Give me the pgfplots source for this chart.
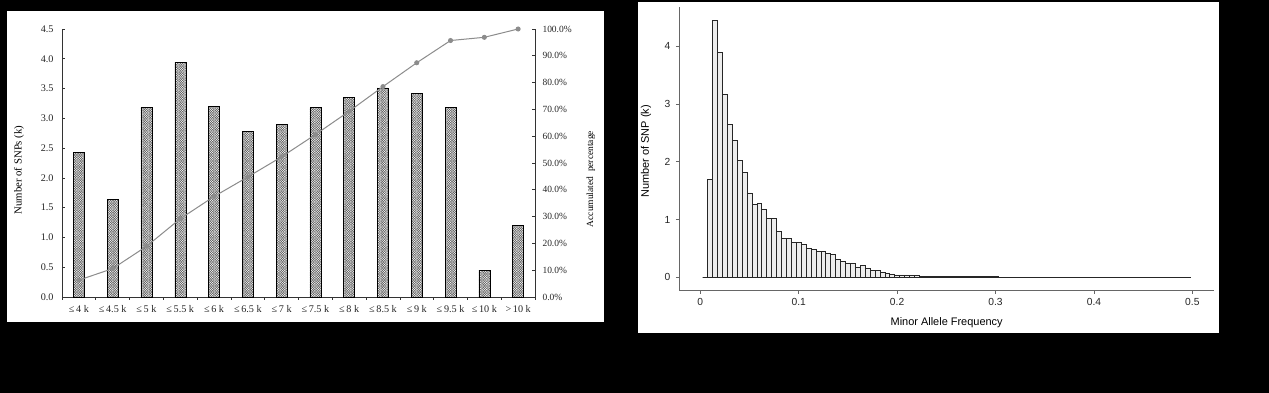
\documentclass[border=0pt]{standalone}
\usepackage{pgfplots}
\pgfplotsset{compat=1.18}
\usepackage{fontspec}
\setmainfont{Liberation Serif}
\newfontfamily\arial{Liberation Sans}
\usetikzlibrary{patterns.meta}
\begin{document}
\begin{tikzpicture}
\useasboundingbox (0,0) rectangle (1269bp,393bp);
\fill[black] (0,0) rectangle (1269bp,393bp);
\fill[white] (7bp,71bp) rectangle (604bp,382bp);
\fill[white] (638bp,60bp) rectangle (1219bp,391bp);

% ---------- left chart ----------
\begin{axis}[
  at={(62bp,96bp)}, anchor=south west,
  scale only axis, width=473bp, height=268bp,
  xmin=-0.5, xmax=13.5, ymin=0, ymax=4.5,
  axis x line*=bottom, axis y line*=left,
  axis line style={black!80, line width=0.6bp, -},
  ytick={0,0.5,...,4.5},
  yticklabels={0.0,0.5,1.0,1.5,2.0,2.5,3.0,3.5,4.0,4.5},
  xtick={0,...,13},
  xticklabels={≤\,4 k,≤\,4.5 k,≤\,5 k,≤\,5.5 k,≤\,6 k,≤\,6.5 k,≤\,7 k,≤\,7.5 k,≤\,8 k,≤\,8.5 k,≤\,9 k,≤\,9.5 k,≤\,10 k,>\,10 k},
  minor xtick={-0.5,0.5,...,13.5},
  major x tick style={draw=none},
  minor x tick style={black!80, line width=0.6bp},
  y tick style={black!80, line width=0.6bp},
  tick align=inside, major tick length=3bp, minor tick length=3bp,
  tick label style={font=\fontsize{10.2}{11}\selectfont, text=black!85},
  xticklabel style={yshift=-2bp},
  yticklabel style={xshift=-5bp},
  ylabel={Number of SNPs (k)},
  ylabel style={font=\fontsize{10.8}{12}\selectfont, at={(axis description cs:-0.091,0.474)}, anchor=center, rotate=0},
  ybar, bar width=11bp, bar shift=0pt,
  clip=false,
]
\addplot[draw=black, line width=0.5bp, pattern={Hatch[angle=45,distance=1.7bp,line width=0.5bp]}, pattern color=black!60]
coordinates {(0,2.43) (1,1.64) (2,3.18) (3,3.94) (4,3.20) (5,2.78) (6,2.90) (7,3.18) (8,3.35) (9,3.51) (10,3.42) (11,3.18) (12,0.45) (13,1.20)};
\end{axis}
\begin{axis}[
  at={(62bp,96bp)}, anchor=south west,
  scale only axis, width=473bp, height=268bp,
  xmin=-0.5, xmax=13.5, ymin=0, ymax=100,
  axis x line=none, axis y line*=right,
  axis line style={black!80, line width=0.6bp, -},
  ytick={0,10,...,100},
  yticklabels={0.0\%,10.0\%,20.0\%,30.0\%,40.0\%,50.0\%,60.0\%,70.0\%,80.0\%,90.0\%,100.0\%},
  y tick style={black!80, line width=0.6bp},
  tick align=inside, major tick length=3bp,
  tick label style={font=\fontsize{9.5}{11}\selectfont, text=black!85},
  yticklabel style={xshift=4bp},
  ylabel={Accumulated\ \ percentage},
  ylabel style={font=\fontsize{9.5}{11}\selectfont, at={(axis description cs:1.118,0.44)}, anchor=center},
  clip=false,
]
\addplot[color=black!45, line width=1bp, mark=*, mark size=2bp, mark options={fill=black!45, draw=black!45}]
coordinates {(0,6.3) (1,10.6) (2,18.9) (3,29.2) (4,37.5) (5,44.8) (6,52.3) (7,60.6) (8,69.3) (9,78.5) (10,87.4) (11,95.7) (12,96.9) (13,100)};
\end{axis}

% ---------- right chart ----------
\begin{axis}[
  at={(679.3bp,103bp)}, anchor=south west,
  scale only axis, width=534.7bp, height=283bp,
  xmin=-0.0213, xmax=0.522, ymin=-0.22, ymax=4.68,
  axis x line*=bottom, axis y line*=left,
  axis line style={black!60, line width=0.9bp, -},
  xtick={0,0.1,0.2,0.3,0.4,0.5},
  xticklabels={0,0.1,0.2,0.3,0.4,0.5},
  ytick={0,1,2,3,4},
  yticklabels={0,1,2,3,4},
  tick align=outside, major tick length=3.5bp,
  tick style={black!60, line width=0.7bp},
  tick label style={font=\arial\fontsize{10.3}{12}\selectfont, text=black!85},
  xticklabel style={yshift=-1bp},
  yticklabel style={xshift=-2bp},
  xlabel={Minor Allele Frequency},
  ylabel={Number of SNP (k)},
  xlabel style={font=\arial\fontsize{11}{13}\selectfont, at={(axis description cs:0.5,-0.115)}, anchor=center},
  ylabel style={font=\arial\fontsize{11}{13}\selectfont, at={(axis description cs:-0.062,0.49)}, anchor=center},
  ybar, bar width=0.005, bar shift=0pt,
  clip=false,
]
\addplot[fill=black!7, draw=black!85, line width=0.6bp] table {
x y
0.005 0
0.010 1.70
0.015 4.45
0.020 3.90
0.025 3.16
0.030 2.65
0.035 2.37
0.040 2.02
0.045 1.81
0.050 1.46
0.055 1.26
0.060 1.28
0.065 1.18
0.070 1.02
0.075 1.02
0.080 0.80
0.085 0.67
0.090 0.67
0.095 0.60
0.100 0.60
0.105 0.57
0.110 0.50
0.115 0.48
0.120 0.45
0.125 0.45
0.130 0.42
0.135 0.39
0.140 0.31
0.145 0.27
0.150 0.25
0.155 0.24
0.160 0.18
0.165 0.20
0.170 0.15
0.175 0.12
0.180 0.12
0.185 0.09
0.190 0.07
0.195 0.06
0.200 0.04
0.205 0.04
0.210 0.04
0.215 0.035
0.220 0.03
0.225 0.02
0.230 0.02
0.235 0.015
0.240 0.01
0.245 0.015
0.250 0.01
0.255 0.015
0.260 0.01
0.265 0.01
0.270 0.01
0.275 0.015
0.280 0.01
0.285 0.01
0.290 0.01
0.295 0.01
0.300 0.01
0.305 0.005
0.310 0.005
0.315 0.005
0.320 0.005
0.325 0.005
0.330 0.005
0.335 0.005
0.340 0.005
0.345 0.005
0.350 0.005
0.355 0.005
0.360 0.005
0.365 0.005
0.370 0.005
0.375 0.005
0.380 0.005
0.385 0.005
0.390 0.005
0.395 0.005
0.400 0.005
0.405 0.005
0.410 0.005
0.415 0.005
0.420 0.005
0.425 0.005
0.430 0.005
0.435 0.005
0.440 0.005
0.445 0.005
0.450 0.005
0.455 0.005
0.460 0.005
0.465 0.005
0.470 0.005
0.475 0.005
0.480 0.005
0.485 0.005
0.490 0.005
0.495 0.005
};
\end{axis}
\end{tikzpicture}
\end{document}
